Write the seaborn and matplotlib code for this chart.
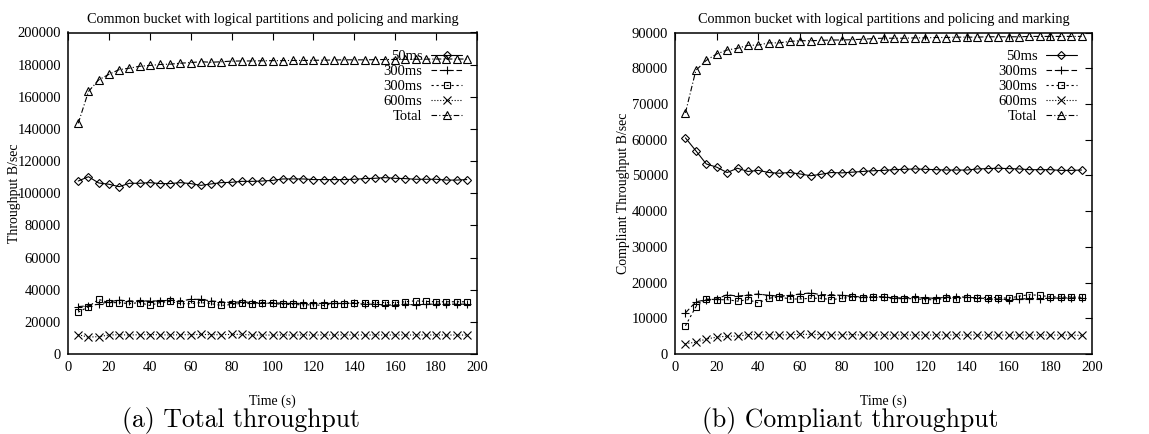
import matplotlib
matplotlib.use("Agg")
import matplotlib.pyplot as plt
import seaborn as sns
import pandas as pd
from matplotlib.ticker import FuncFormatter, MultipleLocator

# ---------------- data ----------------
time_s = [5, 10, 15, 20, 25, 30, 35, 40, 45, 50, 55, 60, 65, 70, 75, 80, 85, 90, 95, 100,
          105, 110, 115, 120, 125, 130, 135, 140, 145, 150, 155, 160, 165, 170, 175, 180,
          185, 190, 195]

series_labels = ["50ms", "300ms", "300ms", "600ms", "Total"]

# (a) total throughput
a_50ms = [107600, 110300, 106400, 105600, 104100, 106200, 106200, 106600, 106000, 106000,
          106600, 106000, 104900, 105800, 106600, 106800, 107400, 107400, 107600, 108000,
          108900, 108900, 108900, 108500, 108500, 108500, 108500, 108700, 109100, 109300,
          109700, 109300, 109100, 108700, 108700, 108700, 108200, 108200, 108500]
a_300ms_plus = [29500, 30000, 31000, 32500, 33500, 33000, 33000, 33000, 33000, 33500,
                33000, 34000, 34000, 33000, 32500, 32000, 32500, 32000, 32000, 32000,
                31500, 31500, 31500, 31500, 31500, 31500, 31500, 31500, 31000, 31000,
                30500, 30500, 31000, 30500, 31000, 31000, 31000, 31000, 31000]
a_300ms_box = [26000, 29400, 34000, 31900, 32000, 31300, 32000, 30200, 32000, 32700,
               31300, 31300, 32000, 31300, 30200, 30800, 31500, 31300, 31700, 31500,
               30800, 30800, 30600, 30600, 30200, 31300, 31300, 32000, 32000, 32000,
               32000, 32000, 32500, 33100, 32700, 32500, 32500, 32500, 32500]
a_600ms = [12000, 10500, 10800, 11800, 12000, 11800, 12000, 12000, 12000, 11800,
           12000, 12000, 12200, 12000, 12000, 12200, 12200, 11800, 11800, 11800,
           11800, 11800, 11800, 11800, 11800, 11800, 11800, 11800, 11800, 11800,
           11800, 11800, 11800, 11800, 11800, 11800, 11800, 11800, 11800]
a_total = [143500, 163300, 170500, 174000, 176900, 177800, 179000, 179500, 180100, 180300,
           180900, 181300, 181800, 181500, 181800, 182200, 182300, 182300, 182400, 182500,
           182500, 182600, 182600, 182700, 182800, 182900, 183000, 183000, 183000, 183100,
           183200, 183200, 183300, 183400, 183400, 183500, 183500, 183500, 183500]

# (b) compliant throughput
b_50ms = [60500, 56900, 53200, 52300, 50800, 52000, 51100, 51400, 50800, 50600,
          50800, 50400, 49900, 50300, 50800, 50700, 50900, 51100, 51300, 51400,
          51600, 51700, 51800, 51700, 51600, 51500, 51500, 51500, 51800, 51900,
          52000, 51900, 51800, 51600, 51600, 51600, 51400, 51400, 51500]
b_300ms_plus = [11500, 14600, 15200, 15400, 16600, 16200, 16500, 16800, 16400, 16200,
                16400, 16800, 17100, 16600, 16600, 16400, 16200, 15900, 16000, 16000,
                15700, 15700, 15900, 15700, 15600, 15900, 16000, 15900, 15700, 15500,
                15400, 15200, 15400, 15500, 15500, 15600, 15700, 15700, 15700]
b_300ms_box = [7900, 13200, 15400, 15200, 15200, 14800, 15200, 14300, 15600, 16000,
               15400, 15400, 15600, 15600, 15200, 15600, 15900, 15700, 16000, 16000,
               15500, 15500, 15500, 15200, 15200, 15600, 15500, 15800, 15800, 15800,
               15800, 15600, 16200, 16600, 16400, 16000, 16000, 16000, 15900]
b_600ms = [2900, 3300, 4200, 4700, 5000, 5000, 5400, 5400, 5400, 5300,
           5400, 5500, 5500, 5400, 5300, 5400, 5400, 5300, 5300, 5300,
           5300, 5300, 5300, 5300, 5300, 5300, 5300, 5300, 5300, 5300,
           5300, 5300, 5300, 5300, 5300, 5300, 5300, 5300, 5200]
b_total = [67500, 79400, 82200, 84000, 85100, 85600, 86400, 86500, 87100, 87100,
           87500, 87700, 87700, 87800, 87900, 87900, 88000, 88100, 88300, 88400,
           88400, 88400, 88500, 88500, 88600, 88600, 88700, 88700, 88700, 88800,
           88800, 88800, 88800, 88900, 88900, 88900, 88900, 88900, 88900]

title_text = "Common bucket with logical partitions and policing and marking"
xlabel_text = "Time (s)"
ylabel_a = "Throughput B/sec"
ylabel_b = "Compliant Throughput B/sec"
caption_a = "(a) Total throughput"
caption_b = "(b) Compliant throughput"

# ---------------- style ----------------
sns.set_theme(style="white")
plt.rcParams["font.family"] = ["Liberation Serif", "DejaVu Serif"]
plt.rcParams["axes.edgecolor"] = "black"
plt.rcParams["xtick.color"] = "black"
plt.rcParams["ytick.color"] = "black"
plt.rcParams["text.color"] = "black"

FS = 10.5

styles = [
    dict(marker="D", markersize=3.6, linestyle="-"),
    dict(marker="+", markersize=6, linestyle=(0, (5, 2.5))),
    dict(marker="s", markersize=5, linestyle=(0, (2, 2.5))),
    dict(marker="x", markersize=5.3, linestyle=(0, (1, 1.6))),
    dict(marker="^", markersize=5.2, linestyle=(0, (5, 2, 1, 2))),
]

fig = plt.figure(figsize=(11.49, 4.34), dpi=100)

W, H = 1149.0, 434.0
panels = [
    (68, 477, [a_50ms, a_300ms_plus, a_300ms_box, a_600ms, a_total], 200000, 20000, ylabel_a, caption_a, 241, 15),
    (675, 1092, [b_50ms, b_300ms_plus, b_300ms_box, b_600ms, b_total], 90000, 10000, ylabel_b, caption_b, 850, 623),
]

for (x0, x1, data, ymax, ystep, ylab, cap, capx, ylabx) in panels:
    ax = fig.add_axes([x0 / W, 1 - 354 / H, (x1 - x0) / W, (354 - 32.5) / H])
    for lab, vals, st in zip(series_labels, data, styles):
        df = pd.DataFrame({"t": time_s, "v": vals})
        sns.lineplot(data=df, x="t", y="v", ax=ax, color="black", linewidth=0.8,
                     markerfacecolor="none", markeredgecolor="black", markeredgewidth=0.8,
                     label=lab, **st)
    ax.set_xlim(0, 200)
    ax.set_ylim(0, ymax)
    ax.xaxis.set_major_locator(MultipleLocator(20))
    ax.yaxis.set_major_locator(MultipleLocator(ystep))
    ax.yaxis.set_major_formatter(FuncFormatter(lambda v, p: f"{int(round(v))}"))
    ax.tick_params(direction="in", length=5, width=0.8, top=True, right=True,
                   labelsize=FS, pad=5)
    for sp in ax.spines.values():
        sp.set_linewidth(1.1)
        sp.set_color("black")
    ax.set_xlabel("")
    ax.set_ylabel("")
    ax.set_title(title_text, fontsize=10.3, pad=7)
    leg = ax.legend(loc="upper right", bbox_to_anchor=(0.963, 0.945), frameon=False,
                    markerfirst=False, fontsize=FS, handlelength=2.1, handletextpad=0.6,
                    labelspacing=0.12, borderaxespad=0, borderpad=0, numpoints=1)
    fig.text(ylabx / W, 1 - 193 / H, ylab, rotation=90, ha="center", va="center",
             fontsize=FS - 0.5)
    fig.text((x0 + x1) / 2 / W, 1 - 401 / H, xlabel_text, ha="center", va="center",
             fontsize=FS - 0.5)
    fig.text(capx / W, 1 - 420 / H, cap, ha="center", va="center", fontsize=18.5,
             family="cmr10")

fig.savefig("out.png", dpi=100)
